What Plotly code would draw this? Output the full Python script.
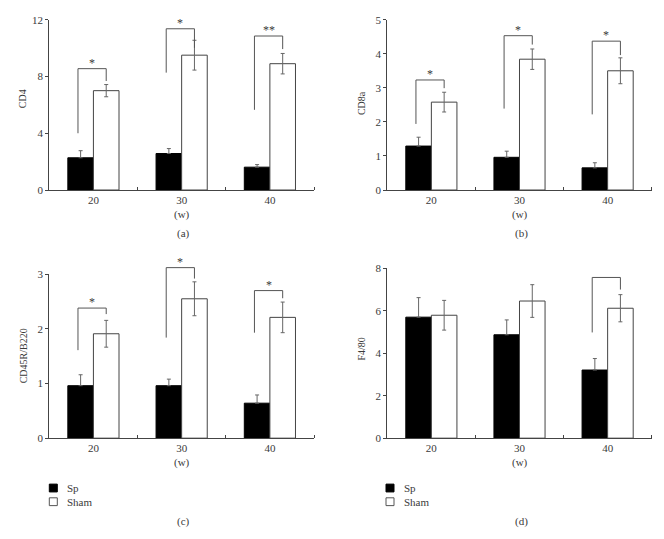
import plotly.graph_objects as go

W, H = 664, 539

categories = ["20", "30", "40"]

# Panel (a) CD4
cd4_sp = [2.27, 2.57, 1.61]
cd4_sp_err = [0.50, 0.35, 0.18]
cd4_sham = [7.00, 9.50, 8.90]
cd4_sham_err = [0.43, 1.05, 0.72]
cd4_br_left = [4.00, 8.27, 5.65]
cd4_br_top = [8.55, 11.36, 10.85]
cd4_br_right = [7.68, 10.02, 9.93]
cd4_marks = ["*", "*", "**"]

# Panel (b) CD8a
cd8_sp = [1.29, 0.96, 0.65]
cd8_sp_err = [0.26, 0.18, 0.15]
cd8_sham = [2.58, 3.84, 3.50]
cd8_sham_err = [0.29, 0.30, 0.38]
cd8_br_left = [1.94, 2.39, 2.22]
cd8_br_top = [3.23, 4.53, 4.37]
cd8_br_right = [2.99, 4.27, 3.96]
cd8_marks = ["*", "*", "*"]

# Panel (c) CD45R/B220
b220_sp = [0.96, 0.96, 0.64]
b220_sp_err = [0.20, 0.12, 0.15]
b220_sham = [1.91, 2.55, 2.21]
b220_sham_err = [0.245, 0.31, 0.28]
b220_br_left = [1.61, 1.84, 1.93]
b220_br_top = [2.38, 3.12, 2.70]
b220_br_right = [2.27, 2.92, 2.56]
b220_marks = ["*", "*", "*"]

# Panel (d) F4/80
f480_sp = [5.70, 4.87, 3.21]
f480_sp_err = [0.92, 0.70, 0.54]
f480_sham = [5.79, 6.46, 6.12]
f480_sham_err = [0.70, 0.77, 0.64]
f480_br_left = [None, None, 4.98]
f480_br_top = [None, None, 7.57]
f480_br_right = [None, None, 7.00]
f480_marks = ["", "", ""]

y_titles = ["CD4", "CD8a", "CD45R/B220", "F4/80"]
y_ranges = [[0, 12], [0, 5], [0, 3], [0, 8]]
y_dticks = [4, 1, 1, 2]
panel_labels = ["(a)", "(b)", "(c)", "(d)"]
x_title = "(w)"
legend_names = ["Sp", "Sham"]

FONT = "Liberation Serif"
FS = 10
TXT = "#3a3a3a"
AX = "#444444"
ERR = "#666666"
BRK = "#555555"


def px(x):
    return x / W


def py(y):
    return 1 - y / H


# pixel layout of plot areas: (x0, x1, ytop, ybottom)
areas = [
    (49.3, 314.0, 14.0, 188.2),
    (387.3, 651.7, 14.0, 188.2),
    (49.3, 314.0, 274.3, 442.0),
    (387.3, 651.7, 268.3, 442.0),
]
title_centers = [95, 99, 358, 351]  # vertical pixel centres of the y titles
EXTRA = 14.0  # headroom (px) above each plot for significance brackets

panels = [
    (cd4_sp, cd4_sp_err, cd4_sham, cd4_sham_err, cd4_br_left, cd4_br_top, cd4_br_right, cd4_marks),
    (cd8_sp, cd8_sp_err, cd8_sham, cd8_sham_err, cd8_br_left, cd8_br_top, cd8_br_right, cd8_marks),
    (b220_sp, b220_sp_err, b220_sham, b220_sham_err, b220_br_left, b220_br_top, b220_br_right, b220_marks),
    (f480_sp, f480_sp_err, f480_sham, f480_sham_err, f480_br_left, f480_br_top, f480_br_right, f480_marks),
]

fig = go.Figure()
annotations = []
shapes = []
xpos = list(range(len(categories)))


def label(x, y, text, size=FS, angle=0, xanchor="center"):
    return dict(
        x=x, y=y, xref="paper", yref="paper", text=text, textangle=angle,
        showarrow=False, xanchor=xanchor, yanchor="middle",
        font=dict(family=FONT, size=size, color=TXT),
    )


for i, (sp, spe, sh, she, bl, bt, br, mk) in enumerate(panels):
    n = "" if i == 0 else str(i + 1)
    xa, ya = "x" + n, "y" + n
    yb_id = str(i + 5)  # bracket axis
    x0, x1, yt, yb = areas[i]
    fig.add_trace(go.Bar(
        x=xpos, y=sp, name=legend_names[0], xaxis=xa, yaxis=ya, showlegend=False,
        marker=dict(color="#000000", line=dict(color="#000000", width=1)),
        error_y=dict(type="data", symmetric=False, array=spe, arrayminus=[0] * len(spe),
                     color=ERR, thickness=1, width=2),
    ))
    fig.add_trace(go.Bar(
        x=xpos, y=sh, name=legend_names[1], xaxis=xa, yaxis=ya, showlegend=False,
        marker=dict(color="#ffffff", line=dict(color=AX, width=1)),
        error_y=dict(type="data", array=she, color=ERR, thickness=1, width=2),
    ))
    fig.layout["xaxis" + n] = dict(
        domain=[px(x0), px(x1)], range=[-0.5, 2.5], anchor=ya,
        tickmode="array", tickvals=xpos, ticktext=categories, ticks="",
        tickfont=dict(family=FONT, size=FS + 1, color=TXT),
        showline=True, linecolor=AX, linewidth=1, showgrid=False, zeroline=False,
        minor=dict(tickvals=[0.5, 1.5, 2.5], ticks="inside", ticklen=3, tickcolor=AX, showgrid=False),
        fixedrange=True,
    )
    fig.layout["yaxis" + n] = dict(
        domain=[py(yb), py(yt)], range=y_ranges[i], anchor=xa,
        tickmode="linear", tick0=0, dtick=y_dticks[i], ticks="outside", ticklen=3,
        tickcolor=AX, tickfont=dict(family=FONT, size=FS + 1, color=TXT),
        showline=True, linecolor=AX, linewidth=1, showgrid=False, zeroline=False,
        fixedrange=True,
    )
    # invisible y axis with same scale but extra headroom, for the brackets
    ymax_ext = y_ranges[i][1] * (yb - (yt - EXTRA)) / (yb - yt)
    fig.layout["yaxis" + yb_id] = dict(
        domain=[py(yb), py(yt - EXTRA)], range=[0, ymax_ext], anchor=xa,
        visible=False, showgrid=False, zeroline=False, fixedrange=True,
    )
    # significance brackets
    for j in range(len(categories)):
        if bl[j] is None:
            continue
        xl, xr = j - 0.175, j + 0.145
        fig.add_trace(go.Scatter(
            x=[xl, xl, xr, xr], y=[bl[j], bt[j], bt[j], br[j]],
            xaxis=xa, yaxis="y" + yb_id, mode="lines", showlegend=False,
            line=dict(color=BRK, width=1), hoverinfo="skip",
        ))
        if mk[j]:
            annotations.append(dict(
                x=(xl + xr) / 2, y=bt[j], xref=xa, yref="y" + yb_id, text=mk[j], showarrow=False,
                xanchor="center", yanchor="bottom", yshift=-3,
                font=dict(family=FONT, size=12, color=TXT),
            ))
    cx = (x0 + x1) / 2
    annotations.append(label(px(x0 - 26), py(title_centers[i]), y_titles[i], angle=-90))
    annotations.append(label(px(cx), py(yb + 25), x_title, size=FS + 1))
    lab_y = 233 if i < 2 else 527
    annotations.append(label(px(cx + 2), py(lab_y), panel_labels[i], size=FS + 1))

# legends under panels (c) and (d)
for lx in (49.3, 386.0):
    for k, (fill, ly) in enumerate((("#000000", 493.0), ("#ffffff", 507.0))):
        shapes.append(dict(
            type="rect", xref="paper", yref="paper",
            x0=px(lx), x1=px(lx + 8), y0=py(ly + 4), y1=py(ly - 4),
            fillcolor=fill, line=dict(color="#000000" if k == 0 else "#555555", width=1),
        ))
        annotations.append(label(px(lx + 16), py(ly), legend_names[k], size=FS + 1, xanchor="left"))

fig.update_layout(
    width=W, height=H, margin=dict(l=0, r=0, t=0, b=0),
    paper_bgcolor="white", plot_bgcolor="rgba(0,0,0,0)",
    barmode="group", bargap=0.42, bargroupgap=0,
    showlegend=False, shapes=shapes, annotations=annotations,
    font=dict(family=FONT, size=FS, color=TXT),
    hovermode=False,
)

fig.write_html(
    "out.html",
    config={"displayModeBar": False, "staticPlot": True},
    post_script="document.body.style.margin='0';document.body.style.overflow='hidden';"
                "document.documentElement.style.overflow='hidden';",
)
